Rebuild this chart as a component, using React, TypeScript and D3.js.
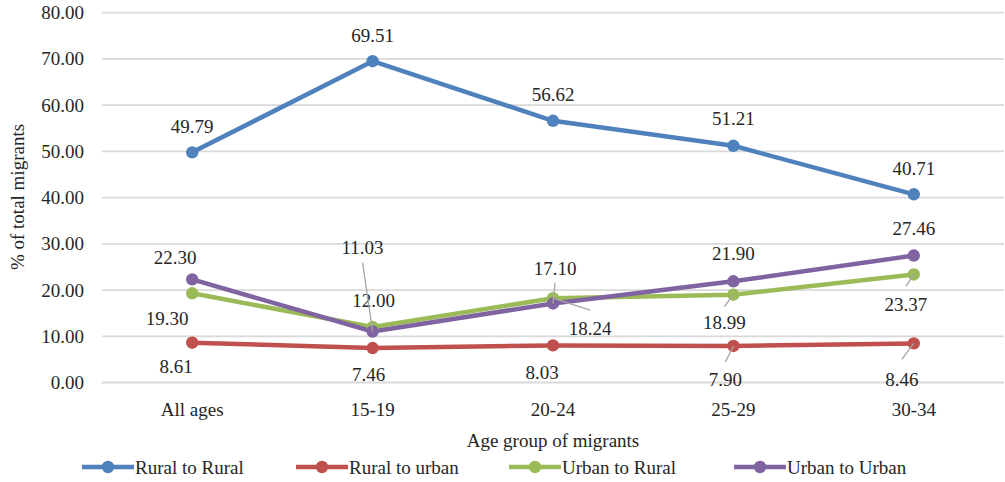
import React from "react";
import * as d3 from "d3";

// Age groups on the x axis
const categories = ["All ages", "15-19", "20-24", "25-29", "30-34"];

// Share of total migrants (%) per migration stream
const ruralToRural = [49.79, 69.51, 56.62, 51.21, 40.71];
const ruralToUrban = [8.61, 7.46, 8.03, 7.9, 8.46];
const urbanToRural = [19.3, 12.0, 18.24, 18.99, 23.37];
const urbanToUrban = [22.3, 11.03, 17.1, 21.9, 27.46];

const seriesNames = ["Rural to Rural", "Rural to urban", "Urban to Rural", "Urban to Urban"];
const yTicks = [0, 10, 20, 30, 40, 50, 60, 70, 80];

const COLORS = ["#4f81bd", "#c0504d", "#9bbb59", "#8064a2"];

// Label placement relative to each point: [dx, dy, leaderStartDy | null]
type Place = [number, number, number | null];
const labelPlacement: Place[][] = [
  [[0, -26, null], [0, -26, null], [0, -26, null], [0, -27, null], [0, -26, null]],
  [[-16, 24, null], [-4, 26, null], [-11, 27, null], [-8, 34, -18], [-12, 36, -20]],
  [[-25, 25, null], [1, -27, null], [37, 30, -18], [-9, 28, -16], [-8, 30, -18]],
  [[-17, -22, null], [-10, -84, 15], [2, -35, 14], [0, -28, null], [0, -27, null]],
];

const FONT = "Liberation Serif, DejaVu Serif, Times New Roman, serif";
const textStyle: React.CSSProperties = { fontFamily: FONT, fontSize: "19px", fill: "#262626" };

export default function App() {
  const width = 1005;
  const height = 482;
  const data = [ruralToRural, ruralToUrban, urbanToRural, urbanToUrban];

  const x = d3.scalePoint<string>().domain(categories).range([102, 1004]).padding(0.5);
  const y = d3.scaleLinear().domain([0, 80]).range([382.5, 12.7]);

  const line = d3
    .line<number>()
    .x((_, i) => x(categories[i]) as number)
    .y((d) => y(d));

  const legendX = [82, 296, 509, 734];

  return (
    <svg
      width={width}
      height={height}
      style={{ position: "absolute", left: 0, top: 0, background: "#fff" }}
    >
      {/* gridlines and y tick labels */}
      {yTicks.map((t) => (
        <g key={t}>
          <line x1={102} x2={1004} y1={y(t)} y2={y(t)} stroke="#d9d9d9" strokeWidth={1.8} />
          <text x={84} y={y(t)} textAnchor="end" dominantBaseline="central" style={textStyle}>
            {t.toFixed(2)}
          </text>
        </g>
      ))}

      {/* x tick labels */}
      {categories.map((c) => (
        <text key={c} x={x(c)} y={409} textAnchor="middle" dominantBaseline="central" style={textStyle}>
          {c}
        </text>
      ))}

      {/* axis titles */}
      <text
        transform="translate(17,197) rotate(-90)"
        textAnchor="middle"
        dominantBaseline="central"
        style={textStyle}
      >
        % of total migrants
      </text>
      <text x={553} y={440} textAnchor="middle" dominantBaseline="central" style={textStyle}>
        Age group of migrants
      </text>

      {/* series lines */}
      {data.map((vals, s) => (
        <path key={s} d={line(vals) ?? ""} fill="none" stroke={COLORS[s]} strokeWidth={4.5} strokeLinejoin="round" />
      ))}

      {/* markers */}
      {data.map((vals, s) =>
        vals.map((v, i) => (
          <circle key={`${s}-${i}`} cx={x(categories[i])} cy={y(v)} r={6.2} fill={COLORS[s]} />
        ))
      )}

      {/* data labels with leader lines */}
      {data.map((vals, s) =>
        vals.map((v, i) => {
          const px = x(categories[i]) as number;
          const py = y(v);
          const [dx, dy, lead] = labelPlacement[s][i];
          const lx = px + dx;
          const ly = py + dy;
          return (
            <g key={`l${s}-${i}`}>
              {lead !== null && (
                <line x1={lx} y1={ly + lead} x2={px} y2={py} stroke="#a6a6a6" strokeWidth={1.3} />
              )}
              <text x={lx} y={ly} textAnchor="middle" dominantBaseline="central" style={textStyle}>
                {v.toFixed(2)}
              </text>
            </g>
          );
        })
      )}

      {/* legend */}
      {seriesNames.map((name, s) => (
        <g key={name}>
          <line x1={legendX[s]} x2={legendX[s] + 52} y1={467} y2={467} stroke={COLORS[s]} strokeWidth={4.5} />
          <circle cx={legendX[s] + 26} cy={467} r={6.2} fill={COLORS[s]} />
          <text x={legendX[s] + 53} y={467} dominantBaseline="central" style={textStyle}>
            {name}
          </text>
        </g>
      ))}
    </svg>
  );
}
